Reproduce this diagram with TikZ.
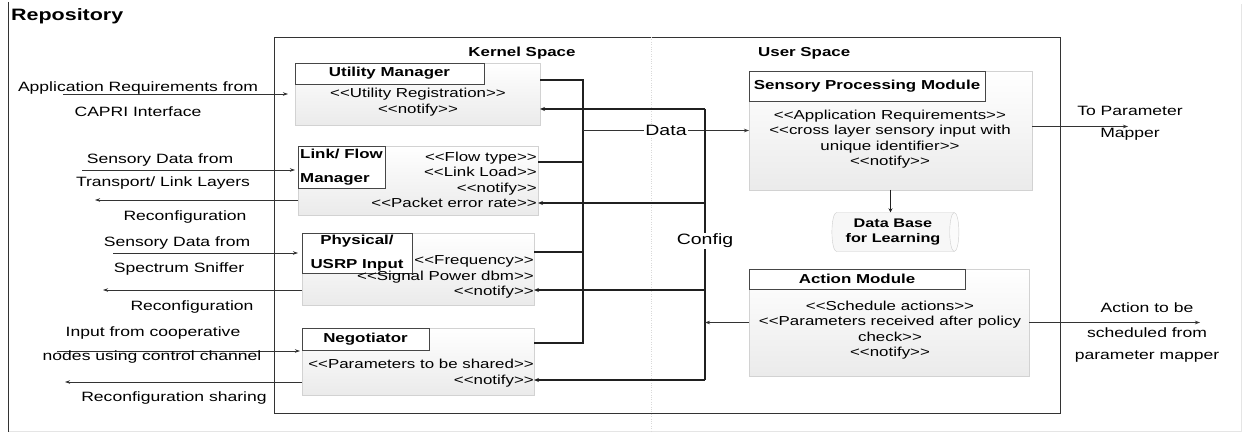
\documentclass[tikz,border=0pt]{standalone}
\usepackage{fontspec}
\setmainfont{Liberation Sans}[FakeStretch=1.3]
\usetikzlibrary{shapes.geometric,arrows.meta}

\newcommand\stereo[1]{<\kern0pt<#1>\kern0pt>}

\tikzset{
  module/.style={draw=gray!35, top color=white, bottom color=gray!16,
    anchor=north west, inner sep=0pt, outer sep=0pt},
  titlebox/.style={draw=gray!55!black, fill=white, anchor=north west,
    inner sep=2pt, outer sep=0pt, font=\fontsize{13}{15}\selectfont\bfseries},
  txt/.style={inner sep=0pt, font=\fontsize{13}{15.3}\selectfont},
  lbl/.style={inner sep=0pt, font=\fontsize{13.5}{15}\selectfont},
  bus/.style={draw=gray!25!black, line width=1.5pt},
  flow/.style={draw=gray!40!black, line width=0.7pt,
    -{Stealth[length=5pt,width=3.5pt]}},
  tip/.style={-{Stealth[length=5pt,width=4pt]}},
}

\begin{document}
\begin{tikzpicture}[x=1pt,y=-1pt]
  \useasboundingbox (0,0) rectangle (1243,433);
  % repository frame
  \draw[gray!20, line width=1pt] (8,431.5) -- (1241,431.5) -- (1241,4);
  \draw[gray!40!black, line width=0.8pt] (8,2) -- (8,432);
  \node[lbl, anchor=west, font=\fontsize{16.5}{18}\selectfont\bfseries] (repo)
    at (11,16) {Repository};

  % system frame and the two spaces
  \node[draw=gray!40!black, line width=0.9pt, minimum width=786pt,
    minimum height=376pt, anchor=north west, inner sep=0pt] (sys) at (274,37) {};
  \draw[gray!30, dotted] (651,37) -- (651,433);
  \node[lbl, font=\fontsize{13}{15}\selectfont\bfseries] (kernel) at (522,53) {Kernel Space};
  \node[lbl, anchor=west, font=\fontsize{13}{15}\selectfont\bfseries] (user) at (758,53) {User Space};

  % kernel space modules
  \node[module, minimum width=245pt, minimum height=62pt] (um) at (295,63) {};
  \node[titlebox, minimum width=189pt, minimum height=21pt] (umt) at (um.north west) {Utility Manager};
  \node[txt, align=center] (umx) at (418,102) {\stereo{Utility Registration}\\\stereo{notify}};

  \node[module, minimum width=240pt, minimum height=69pt] (lfm) at (298,146) {};
  \node[titlebox, minimum width=87pt, minimum height=42pt, align=left,
    font=\fontsize{13}{24}\selectfont\bfseries] (lfmt) at (lfm.north west) {Link/ Flow\\Manager};
  \node[txt, align=right, anchor=east] (lfmx) at (537,180)
    {\stereo{Flow type}\\\stereo{Link Load}\\\stereo{notify}\\\stereo{Packet error rate}};

  \node[module, minimum width=232pt, minimum height=72pt] (phy) at (302,233) {};
  \node[titlebox, minimum width=110pt, minimum height=38pt, align=center,
    font=\fontsize{13}{24}\selectfont\bfseries] (phyt) at (phy.north west) {Physical/\\USRP Input};
  \node[txt, align=right, anchor=east] (phyx) at (534,277)
    {\stereo{Frequency}\\\stereo{Signal Power dbm}\\\stereo{notify}};

  \node[module, minimum width=232pt, minimum height=67pt] (neg) at (302,328) {};
  \node[titlebox, minimum width=127pt, minimum height=22pt] (negt) at (neg.north west) {Negotiator};
  \node[txt, align=right, anchor=east] (negx) at (534,373)
    {\stereo{Parameters to be shared}\\\stereo{notify}};

  % user space modules
  \node[module, minimum width=283pt, minimum height=119pt] (spm) at (749,71) {};
  \node[titlebox, minimum width=236pt, minimum height=30pt] (spmt) at (spm.north west) {Sensory Processing Module};
  \node[txt, align=center] (spmx) at (890,139)
    {\stereo{Application Requirements}\\\stereo{cross layer sensory input with\\unique identifier}\\\stereo{notify}};

  \node[cylinder, draw=gray!40, aspect=0.35, minimum width=39pt, minimum height=127pt,
    cylinder uses custom fill, cylinder body fill=gray!6, cylinder end fill=gray!3,
    align=center, inner sep=0pt, font=\fontsize{12.5}{15}\selectfont\bfseries]
    (db) at (893,232) {Data Base\\for Learning};

  \node[module, minimum width=280pt, minimum height=107pt] (am) at (749,269) {};
  \node[titlebox, minimum width=216pt, minimum height=20pt] (amt) at (am.north west) {Action Module};
  \node[txt, align=center] (amx) at (890,330)
    {\stereo{Schedule actions}\\\stereo{Parameters received after policy\\check}\\\stereo{notify}};

  % data bus from the kernel modules
  \coordinate (kb) at (583,80);
  \coordinate (lfmo) at ([yshift=-16pt]lfm.north east);
  \coordinate (phyo) at ([yshift=-19pt]phy.north east);
  \draw[bus] ([yshift=-17pt]um.north east) -- (kb) |- ([yshift=-15pt]neg.north east);
  \draw[bus] (lfmo) -- (lfmo -| kb);
  \draw[bus] (phyo) -- (phyo -| kb);
  \draw[flow, line width=1.1pt] (kb |- spm.west) --
    node[fill=white, inner sep=1pt, font=\fontsize{15}{18}\selectfont] (data) {Data} (spm.west);

  % config bus back to the kernel modules
  \coordinate (cb) at (705,0);
  \coordinate (umi) at ([yshift=-46pt]um.north east);
  \coordinate (lfmi) at ([yshift=-57pt]lfm.north east);
  \coordinate (phyi) at ([yshift=-57pt]phy.north east);
  \coordinate (negi) at ([yshift=-52pt]neg.north east);
  \draw[bus] (umi -| cb) --
    node[pos=0.487, fill=white, inner sep=1pt, font=\fontsize{15}{18}\selectfont] (config) {Config}
    (negi -| cb);
  \foreach \m in {umi,lfmi,phyi,negi}
    \draw[bus, tip] (\m -| cb) -- (\m);
  \draw[flow] (am.west) -- (am.west -| cb);

  \draw[bus, -{Stealth[length=4pt,width=4pt]}] (spm.south) -- (spm.south |- db.north);

  % inputs and outputs of the repository
  \coordinate (capri) at (63,94);
  \coordinate (tlink) at (82,170);
  \coordinate (rc1) at (95,200);
  \coordinate (sniff) at (113,253);
  \coordinate (rc2) at (103,290);
  \coordinate (coop) at (57,351);
  \coordinate (rc3) at (65,382);
  \coordinate (tomap) at (1128,0);
  \coordinate (tosched) at (1200,0);
  \draw[flow, shorten >=7pt] (capri) -- (capri -| um.west);
  \draw[flow, shorten >=3pt] (tlink) -- (tlink -| lfm.west);
  \draw[flow] (rc1 -| lfm.west) -- (rc1);
  \draw[flow, shorten >=4pt] (sniff) -- (sniff -| phy.west);
  \draw[flow] (rc2 -| phy.west) -- (rc2);
  \draw[flow, shorten >=2pt] (coop) -- (coop -| neg.west);
  \draw[flow] (rc3 -| neg.west) -- (rc3);
  \draw[flow] ([yshift=4pt]spm.east) -- ([yshift=4pt]spm.east -| tomap);
  \draw[flow] (am.east) -- (am.east -| tosched);

  \foreach \x/\y/\txt [count=\i] in {
      138/88/Application Requirements from,
      138/112/CAPRI Interface,
      160/160/Sensory Data from,
      163/183/{Transport/ Link Layers},
      185/217/Reconfiguration,
      177/243/Sensory Data from,
      179/269/Spectrum Sniffer,
      192/307/Reconfiguration,
      153/333/Input from cooperative,
      152/357/nodes using control channel,
      174/398/Reconfiguration sharing,
      1130/111/To Parameter,
      1130/134/Mapper,
      1147/308/Action to be,
      1147/333/scheduled from,
      1147/357/parameter mapper%
    }
    \node[lbl] (lbl\i) at (\x,\y) {\txt};
\end{tikzpicture}
\end{document}
